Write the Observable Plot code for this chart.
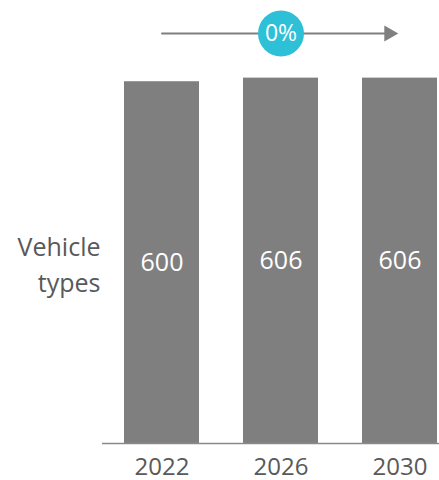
<!DOCTYPE html>
<html>
<head>
<meta charset="utf-8">
<script src="https://cdn.jsdelivr.net/npm/d3@7"></script>
<script src="https://cdn.jsdelivr.net/npm/@observablehq/plot@0.6"></script>
<style>
  html, body { margin: 0; padding: 0; background: #fff; }
  #chart { width: 439px; height: 480px; }
</style>
</head>
<body>
<div id="chart"></div>
<script>
// Number of vehicle types per year
const years = ["2022", "2026", "2030"];
const vehicleTypes = [600, 606, 606];
const rowLabel = "Vehicle\ntypes";
const changeLabel = "0%";

// Top of the value axis; the growth arrow runs along it
const yMax = 680;

const barColor = "#7f7f7f";
const textColor = "#595959";
const accent = "#2ec0d6";
const font = "'Open Sans', sans-serif";

const rows = years.map((year, i) => ({year, value: vehicleTypes[i]}));
const first = years[0];
const last = years[years.length - 1];
const middle = years[Math.floor(years.length / 2)];

const chart = Plot.plot({
  width: 439,
  height: 480,
  marginLeft: 124,
  marginRight: 2,
  marginTop: 33,
  marginBottom: 37,
  style: {fontFamily: font, background: "#fff"},
  x: {type: "band", domain: years, paddingInner: 0.37, paddingOuter: 0, axis: null},
  y: {domain: [0, yMax], axis: null},
  marks: [
    Plot.barY(rows, {x: "year", y: "value", fill: barColor}),
    Plot.ruleY([0], {stroke: "#8a8a8a", strokeWidth: 1.5, insetLeft: -22, insetRight: -2}),
    // year labels under the bars
    Plot.text(rows, {
      x: "year", frameAnchor: "bottom", text: "year", lineAnchor: "bottom",
      dy: 31, fill: textColor, fontSize: 24
    }),
    // value labels centred in each bar
    Plot.text(rows, {
      x: "year", y: d => d.value / 2, text: d => String(d.value),
      fill: "white", fontSize: 25
    }),
    // row label to the left of the bars
    Plot.text([rowLabel], {
      frameAnchor: "left", y: vehicleTypes[0] / 2, text: d => d,
      textAnchor: "end", dx: -24, fill: textColor, fontSize: 25, lineHeight: 1.45
    }),
    // growth arrow across the period
    Plot.arrow([{}], {
      x1: () => first, x2: () => last, y1: () => yMax, y2: () => yMax,
      stroke: barColor, strokeWidth: 2, headLength: 0, insetEnd: 14
    }),
    Plot.dot([last], {
      x: d => d, y: () => yMax, symbol: "triangle", rotate: 90, r: 6,
      fill: barColor, stroke: "none", dx: -11
    }),
    Plot.dot([middle], {
      x: d => d, y: () => yMax, r: 23, fill: accent, stroke: "none"
    }),
    Plot.text([changeLabel], {
      x: () => middle, y: () => yMax, text: d => d,
      fill: "white", fontSize: 23
    })
  ]
});

document.getElementById("chart").appendChild(chart);
</script>
</body>
</html>
